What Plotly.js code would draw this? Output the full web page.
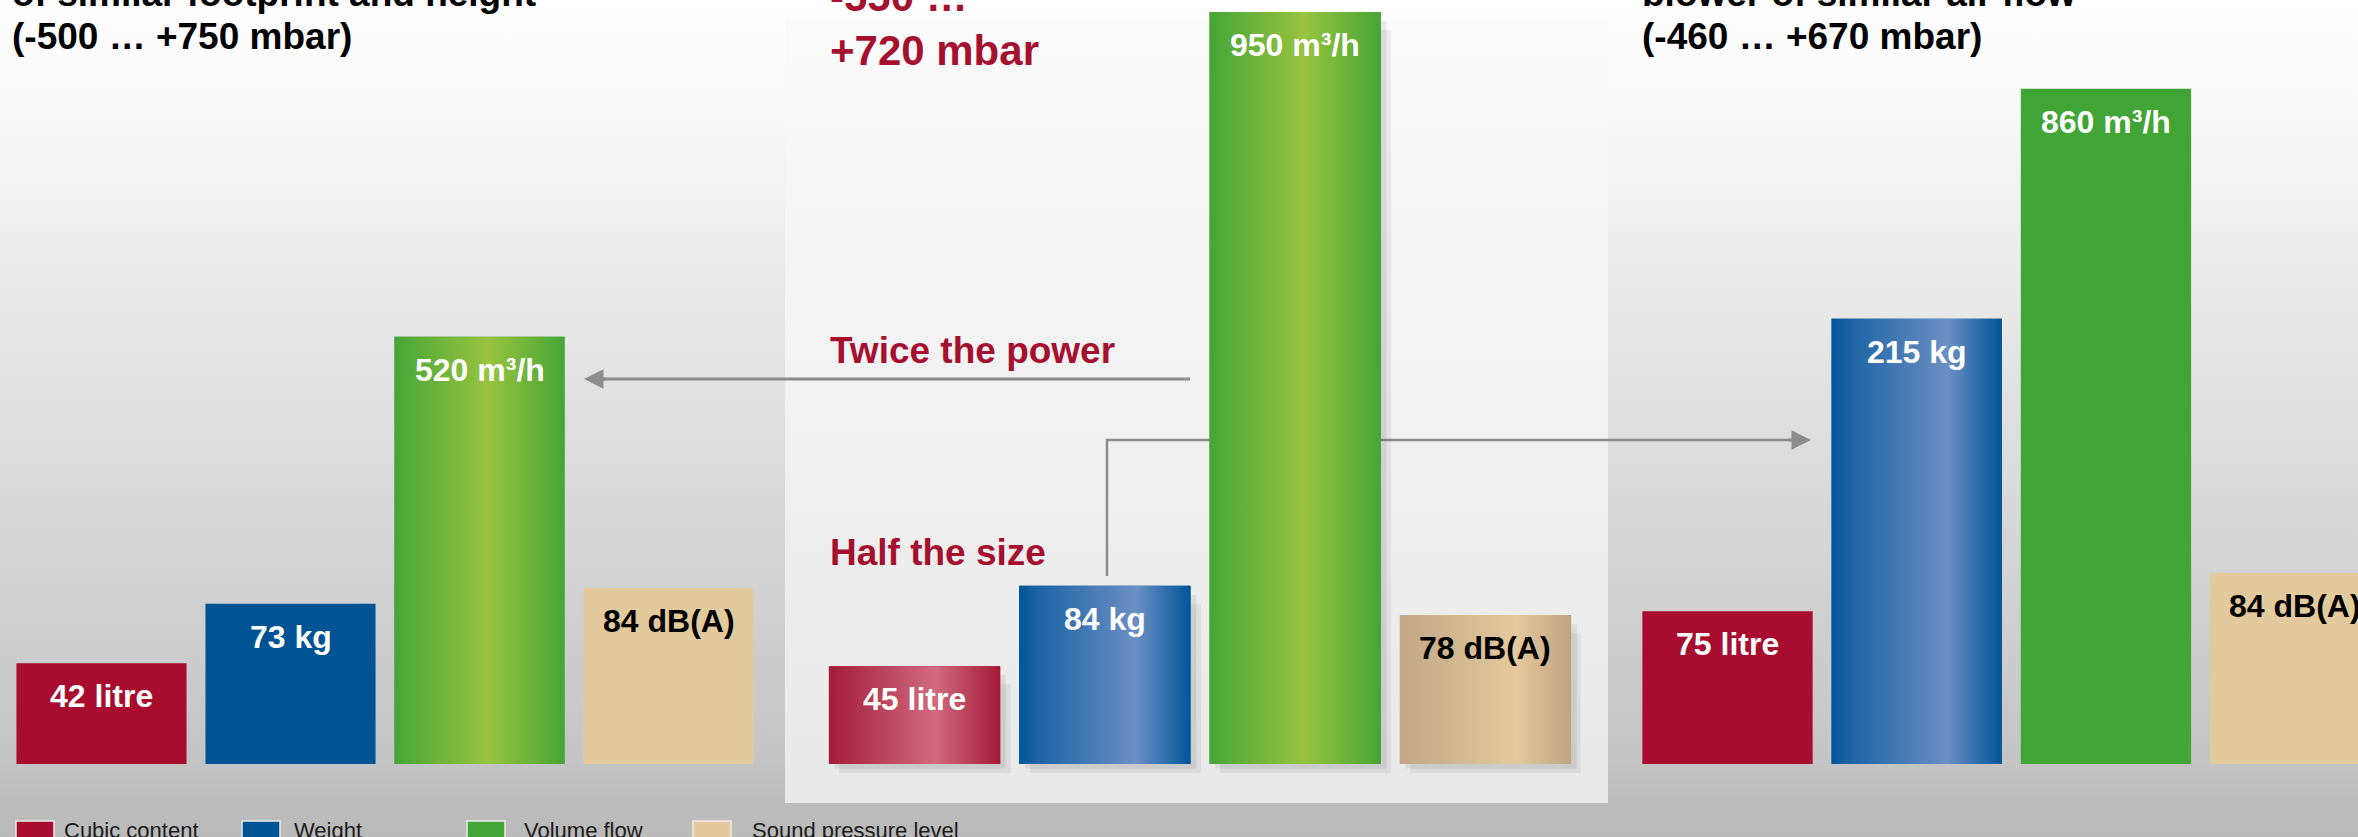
<!DOCTYPE html>
<html><head><meta charset="utf-8">
<script src="https://cdn.plot.ly/plotly-3.0.1.min.js"></script>
<style>
html,body{margin:0;padding:0;overflow:hidden;}
body{width:2358px;height:837px;background:linear-gradient(to bottom,#ffffff 0px,#f8f8f8 110px,#e6e6e6 330px,#c4c4c4 764px,#bcbcbc 800px,#bababa 837px);}
#chart{width:2358px;height:837px;}
</style></head>
<body><div id="chart"></div>
<script>
// ---------------- data ----------------
const categories = ['Cubic content', 'Weight', 'Volume flow', 'Sound pressure level'];
const leftLabels   = ['42 litre', '73 kg', '520 m³/h', '84 dB(A)'];
const centerLabels = ['45 litre', '84 kg', '950 m³/h', '78 dB(A)'];
const rightLabels  = ['75 litre', '215 kg', '860 m³/h', '84 dB(A)'];
// relative bar heights (tallest bar = 100)
const leftHeights   = [13.4, 21.3, 56.8, 23.4];
const centerHeights = [13.0, 23.7, 100.0, 19.8];
const rightHeights  = [20.3, 59.2, 89.8, 25.4];
const leftTitle   = ['of similar footprint and height', '(-500 … +750 mbar)'];
const centerTitle = ['-550 …', '+720 mbar'];
const rightTitle  = ['blower of similar air flow', '(-460 … +670 mbar)'];
const noteUpper = 'Twice the power';
const noteLower = 'Half the size';

// ---------------- style ----------------
const W = 2358, PH = 800; // plot area height in px
const FONT = '"Liberation Sans", Arial, Helvetica, sans-serif';
const CRIMSON = '#a5102f';
const flat = ['#a80c2f', '#005394', '#40a535', '#e2ca9c'];
const labelColor = ['#ffffff', '#ffffff', '#ffffff', '#000000'];
const grad = [
  [[0, '#a31c3a'], [0.62, '#d16a7e'], [1, '#a41a37']],
  [[0, '#00559a'], [0.12, '#1e64a6'], [0.68, '#6b8fc3'], [1, '#00559a']],
  [[0, '#46a536'], [0.55, '#98c33f'], [1, '#46a536']],
  [[0, '#c1a785'], [0.68, '#e3c99b'], [1, '#bfa382']]
];
const px = x => x / W;
const py = y => (PH - y) / PH;
const BW = 0.9;

const panels = [
  {ax: 'x',  heights: leftHeights,   labels: leftLabels,   gradient: [2],          shadow: false},
  {ax: 'x2', heights: centerHeights, labels: centerLabels, gradient: [0, 1, 2, 3], shadow: true},
  {ax: 'x3', heights: rightHeights,  labels: rightLabels,  gradient: [1],          shadow: false}
];

const traces = [];
const annotations = [];
const idx = categories.map((c, i) => i);

panels.forEach(p => {
  if (p.shadow) {
    [[0.030, 0.6, 'rgba(0,0,0,0.07)'], [0.055, 1.2, 'rgba(0,0,0,0.06)']].forEach(([dx, dy, col]) => {
      const xs = [], ys = [];
      idx.forEach(i => {
        const h = p.heights[i];
        xs.push(i - BW/2 + dx, i + BW/2 + dx, i + BW/2 + dx, i - BW/2 + dx, i - BW/2 + dx, null);
        ys.push(-dy, -dy, h - dy*2, h - dy*2, -dy, null);
      });
      traces.push({type: 'scatter', mode: 'lines', x: xs, y: ys, xaxis: p.ax, yaxis: 'y',
        fill: 'toself', fillcolor: col, line: {width: 0, color: 'rgba(0,0,0,0)'}, hoverinfo: 'skip', showlegend: false});
    });
  }
  traces.push({type: 'bar', x: idx, y: p.heights, width: BW, xaxis: p.ax, yaxis: 'y',
    marker: {color: flat, line: {width: 0}}, hovertext: categories, hoverinfo: 'text+y', showlegend: false});
  p.gradient.forEach(i => {
    const h = p.heights[i];
    traces.push({type: 'scatter', mode: 'lines',
      x: [i - BW/2, i + BW/2, i + BW/2, i - BW/2, i - BW/2], y: [0, 0, h, h, 0],
      xaxis: p.ax, yaxis: 'y', fill: 'toself',
      fillgradient: {type: 'horizontal', colorscale: grad[i]},
      line: {width: 0, color: 'rgba(0,0,0,0)'}, hoverinfo: 'skip', showlegend: false});
  });
  idx.forEach(i => {
    annotations.push({xref: p.ax, yref: 'y', x: i, y: p.heights[i], yanchor: 'middle', xanchor: 'center',
      yshift: -33, showarrow: false, text: '<b>' + p.labels[i] + '</b>',
      font: {family: FONT, size: 32, color: labelColor[i]}});
  });
});

// titles
function addTitle(lines, x, color, size, centers) {
  lines.forEach((t, k) => annotations.push({xref: 'paper', yref: 'paper', x: px(x), y: py(centers[k]),
    xanchor: 'left', yanchor: 'middle', showarrow: false, text: '<b>' + t + '</b>',
    font: {family: FONT, size: size, color: color}}));
}
addTitle(leftTitle, 10, '#000000', 37, [-6, 36]);
addTitle(centerTitle, 828, CRIMSON, 42, [-4, 51]);
addTitle(rightTitle, 1640, '#000000', 37, [-6, 36]);
annotations.push({xref: 'paper', yref: 'paper', x: px(828), y: py(350), xanchor: 'left', yanchor: 'middle',
  showarrow: false, text: '<b>' + noteUpper + '</b>', font: {family: FONT, size: 37, color: CRIMSON}});
annotations.push({xref: 'paper', yref: 'paper', x: px(828), y: py(552), xanchor: 'left', yanchor: 'middle',
  showarrow: false, text: '<b>' + noteLower + '</b>', font: {family: FONT, size: 37, color: CRIMSON}});

// arrowheads
annotations.push({xref: 'paper', yref: 'paper', x: px(584), y: py(379), ax: 24, ay: 0, axref: 'pixel', ayref: 'pixel',
  showarrow: true, arrowhead: 2, arrowsize: 1.3, arrowwidth: 3, arrowcolor: '#8c8c8c', text: ''});
annotations.push({xref: 'paper', yref: 'paper', x: px(1811), y: py(440), ax: -24, ay: 0, axref: 'pixel', ayref: 'pixel',
  showarrow: true, arrowhead: 2, arrowsize: 1.3, arrowwidth: 3, arrowcolor: '#8c8c8c', text: ''});

// legend (built from categories)
const legendBoxX = [16, 242, 467, 693];
const legendTextX = [62, 292, 522, 750];
const shapes = [];
categories.forEach((c, i) => {
  shapes.push({type: 'rect', xref: 'paper', yref: 'paper', x0: px(legendBoxX[i]), x1: px(legendBoxX[i] + 38),
    y0: py(821), y1: py(850), fillcolor: flat[i], line: {color: '#ececec', width: 1.5}, layer: 'above'});
  annotations.push({xref: 'paper', yref: 'paper', x: px(legendTextX[i]), y: py(830), xanchor: 'left', yanchor: 'middle',
    showarrow: false, text: c, font: {family: FONT, size: 22, color: '#1a1a1a'}});
});

// connector lines
shapes.push({type: 'line', xref: 'paper', yref: 'paper', x0: px(1190), x1: px(600), y0: py(379), y1: py(379),
  line: {color: '#8c8c8c', width: 3}, layer: 'below'});
shapes.push({type: 'path', xref: 'paper', yref: 'paper',
  path: `M ${px(1107)},${py(576)} L ${px(1107)},${py(440)} L ${px(1795)},${py(440)}`,
  line: {color: '#8c8c8c', width: 2.5}, layer: 'below'});

const panelSvg = '<svg xmlns="http://www.w3.org/2000/svg" width="10" height="100" preserveAspectRatio="none">' +
  '<defs><linearGradient id="g" x1="0" y1="0" x2="0" y2="1"><stop offset="0" stop-color="#fafafa"/>' +
  '<stop offset="1" stop-color="#e8e8e8"/></linearGradient></defs><rect width="10" height="100" fill="url(#g)"/></svg>';

const axisBase = {visible: false, showgrid: false, zeroline: false, fixedrange: true, type: 'linear'};
const layout = {
  width: 2358, height: 837,
  margin: {l: 0, r: 0, t: 0, b: 37, pad: 0},
  paper_bgcolor: 'rgba(0,0,0,0)', plot_bgcolor: 'rgba(0,0,0,0)',
  showlegend: false,
  xaxis:  Object.assign({}, axisBase, {domain: [7/W, 763/W], range: [-0.5, 3.5], anchor: 'y'}),
  xaxis2: Object.assign({}, axisBase, {domain: [819.4/W, 1580.6/W], range: [-0.5, 3.5], anchor: 'y'}),
  xaxis3: Object.assign({}, axisBase, {domain: [1632.9/W, 1], range: [-0.5, 3.332], anchor: 'y'}),
  yaxis:  Object.assign({}, axisBase, {range: [-36/7.52, 764/7.52]}),
  images: [{source: 'data:image/svg+xml;charset=utf-8,' + encodeURIComponent(panelSvg),
    xref: 'paper', yref: 'paper', x: px(785), y: py(20), sizex: (1608-785)/W, sizey: (803-20)/PH,
    xanchor: 'left', yanchor: 'top', sizing: 'stretch', layer: 'below'}],
  shapes: shapes,
  annotations: annotations
};
Plotly.newPlot('chart', traces, layout, {displayModeBar: false, staticPlot: true});
</script>
</body></html>
